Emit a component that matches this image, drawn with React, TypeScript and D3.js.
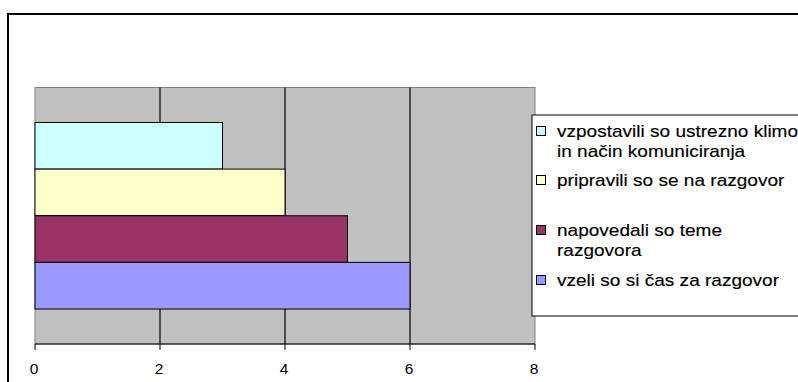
import React from "react";
import * as d3 from "d3";

// Series shown as horizontal bars (top to bottom)
const seriesNames = [
  "vzpostavili so ustrezno klimo in način komuniciranja",
  "pripravili so se na razgovor",
  "napovedali so teme razgovora",
  "vzeli so si čas za razgovor",
];
const seriesValues = [3, 4, 5, 6];
const seriesColors = ["#CCFFFF", "#FFFFCC", "#993366", "#9999FF"];
// Legend text as wrapped lines
const legendLines = [
  ["vzpostavili so ustrezno klimo", "in način komuniciranja"],
  ["pripravili so se na razgovor"],
  ["napovedali so teme", "razgovora"],
  ["vzeli so si čas za razgovor"],
];
const xTicks = [0, 2, 4, 6, 8];

const W = 798;
const H = 382;
const plot = { left: 35, right: 535, top: 87.5, bottom: 344 };
const font = "'Liberation Sans', Arial, sans-serif";

export default function App() {
  const x = d3.scaleLinear().domain([0, 8]).range([plot.left, plot.right]);
  const y = d3
    .scaleBand<string>()
    .domain(seriesNames)
    .range([plot.top, plot.bottom])
    .paddingInner(0)
    .paddingOuter(0.75);

  const legend = { x: 532, y: 115, h: 201 };
  const legendBaselines = [137, 186, 236, 286];

  return (
    <svg
      width={W}
      height={H}
      style={{ position: "absolute", left: 0, top: 0, overflow: "hidden" }}
    >
      <rect x={0} y={0} width={W} height={H} fill="#ffffff" />
      {/* chart area frame */}
      <rect x={8} y={14} width={820} height={420} fill="#ffffff" stroke="#000" strokeWidth={2} />

      {/* plot area */}
      <rect
        x={plot.left}
        y={plot.top}
        width={plot.right - plot.left}
        height={plot.bottom - plot.top}
        fill="#C0C0C0"
        stroke="#808080"
        strokeWidth={1}
      />
      {xTicks.slice(1, -1).map((t) => (
        <line
          key={"g" + t}
          x1={x(t)}
          x2={x(t)}
          y1={plot.top}
          y2={plot.bottom}
          stroke="#000"
          strokeWidth={1.2}
        />
      ))}

      {/* bars */}
      {seriesNames.map((s, i) => (
        <rect
          key={s}
          x={x(0)}
          y={y(s)}
          width={x(seriesValues[i]) - x(0)}
          height={y.bandwidth()}
          fill={seriesColors[i]}
          stroke="#000"
          strokeWidth={1}
        />
      ))}

      {/* x axis */}
      <line x1={plot.left} x2={plot.right} y1={plot.bottom} y2={plot.bottom} stroke="#000" strokeWidth={1} />
      {xTicks.map((t) => (
        <g key={"t" + t}>
          <line x1={x(t)} x2={x(t)} y1={plot.bottom} y2={plot.bottom + 6} stroke="#000" strokeWidth={1} />
          <text
            x={x(t) - 1}
            y={374}
            textAnchor="middle"
            fontFamily={font}
            fontSize={15.5}
            fill="#000"
          >
            {t}
          </text>
        </g>
      ))}

      {/* legend */}
      <rect x={legend.x} y={legend.y} width={400} height={legend.h} fill="#ffffff" stroke="#000" strokeWidth={1} />
      {legendLines.map((lines, i) => (
        <g key={"l" + i}>
          <rect
            x={536.5}
            y={legendBaselines[i] - 10.5}
            width={9}
            height={9}
            fill={seriesColors[i]}
            stroke="#000"
            strokeWidth={1}
          />
          {lines.map((ln, j) => (
            <text
              key={j}
              transform={`translate(557,${legendBaselines[i] + j * 20}) scale(1.12,1)`}
              fontFamily={font}
              fontSize={17}
              fill="#000"
              stroke="#000"
              strokeWidth={0.15}
            >
              {ln}
            </text>
          ))}
        </g>
      ))}
    </svg>
  );
}
